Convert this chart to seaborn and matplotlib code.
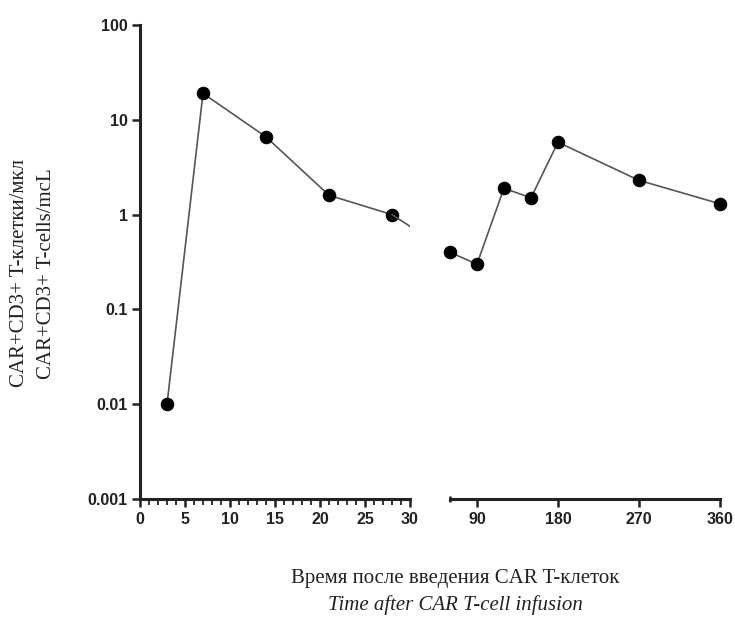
import numpy as np
import pandas as pd
import matplotlib
matplotlib.use("Agg")
import matplotlib.pyplot as plt
from matplotlib.patches import ConnectionPatch
from matplotlib.ticker import FixedLocator, MultipleLocator, NullLocator
import seaborn as sns

# Data
days_early = [3, 7, 14, 21, 28]
cells_early = [0.01, 19, 6.6, 1.6, 1.0]
days_late = [60, 90, 120, 150, 180, 270, 360]
cells_late = [0.4, 0.3, 1.9, 1.5, 5.8, 2.3, 1.3]

y_ticks = [0.001, 0.01, 0.1, 1, 10, 100]
y_tick_labels = ["0.001", "0.01", "0.1", "1", "10", "100"]
x_ticks_early = [0, 5, 10, 15, 20, 25, 30]
x_ticks_late = [90, 180, 270, 360]

ylabel_ru = "CAR+CD3+ T-клетки/мкл"
ylabel_en = "CAR+CD3+ T-cells/mcL"
xlabel_ru = "Время после введения CAR T-клеток"
xlabel_en = "Time after CAR T-cell infusion"

sns.set_style("ticks")
plt.rcParams["font.family"] = ["Liberation Sans", "DejaVu Sans"]

fig = plt.figure(figsize=(7.35, 6.17), dpi=100)
ax1 = fig.add_axes([0.1905, 0.1912, 0.3673, 0.7683])
ax2 = fig.add_axes([0.6122, 0.1912, 0.3673, 0.7683], sharey=ax1)

df1 = pd.DataFrame({"day": days_early, "cells": cells_early})
df2 = pd.DataFrame({"day": days_late, "cells": cells_late})

line_kw = dict(color="#555555", linewidth=1.2, marker="o", markersize=9,
               markerfacecolor="black", markeredgecolor="black", clip_on=False)
sns.lineplot(data=df1, x="day", y="cells", ax=ax1, **line_kw)
sns.lineplot(data=df2, x="day", y="cells", ax=ax2, **line_kw)

for ax in (ax1, ax2):
    ax.set_yscale("log")
    ax.set_ylim(0.001, 100)
    ax.set_xlabel("")
    ax.set_ylabel("")

ax1.set_xlim(0, 30)
ax2.set_xlim(60, 360)

# Connection line across the break (clipped to the left panel)
con = ConnectionPatch(xyA=(days_early[-1], cells_early[-1]), coordsA=ax1.transData,
                      xyB=(days_late[0], cells_late[0]), coordsB=ax2.transData,
                      color="#555555", linewidth=1.2, zorder=1)
fig.add_artist(con)
con.set_clip_on(True)
con.set_clip_box(ax1.bbox)

spine_color = "#222222"
spine_w = 2.2
# left axes
ax1.spines["top"].set_visible(False)
ax1.spines["right"].set_visible(False)
ax1.spines["left"].set_linewidth(spine_w)
ax1.spines["bottom"].set_linewidth(spine_w)
ax1.spines["left"].set_color(spine_color)
ax1.spines["bottom"].set_color(spine_color)
ax1.set_yticks(y_ticks)
ax1.set_yticklabels(y_tick_labels)
ax1.yaxis.set_minor_locator(NullLocator())
ax1.xaxis.set_major_locator(FixedLocator(x_ticks_early))
ax1.xaxis.set_minor_locator(MultipleLocator(1))
ax1.tick_params(axis="both", which="major", length=6, width=1.8, color=spine_color,
                labelsize=11.5, pad=3)
ax1.tick_params(axis="x", which="minor", length=4, width=1.3, color=spine_color)
for lbl in ax1.get_xticklabels() + ax1.get_yticklabels():
    lbl.set_fontweight("bold")
    lbl.set_color("#222222")

# right axes
for s in ("top", "right", "left"):
    ax2.spines[s].set_visible(False)
ax2.spines["bottom"].set_linewidth(spine_w)
ax2.spines["bottom"].set_color(spine_color)
ax2.tick_params(axis="y", which="both", left=False, labelleft=False)
ax2.xaxis.set_major_locator(FixedLocator(x_ticks_late))
ax2.xaxis.set_minor_locator(FixedLocator([60]))
ax2.tick_params(axis="x", which="major", length=6, width=1.8, color=spine_color,
                labelsize=11.5, pad=3)
ax2.tick_params(axis="x", which="minor", length=5, width=1.8, color=spine_color,
                direction="inout")
for lbl in ax2.get_xticklabels():
    lbl.set_fontweight("bold")
    lbl.set_color("#222222")

serif = ["Liberation Serif", "DejaVu Serif"]
fig.text(0.619, 0.063, xlabel_ru, ha="center", va="center", fontsize=15, family=serif,
         color="#222222")
fig.text(0.619, 0.020, xlabel_en, ha="center", va="center", fontsize=15, family=serif,
         style="italic", color="#222222")
fig.text(0.027, 0.557, ylabel_ru, ha="center", va="center", rotation=90, fontsize=15,
         family=serif, color="#222222")
fig.text(0.063, 0.557, ylabel_en, ha="center", va="center", rotation=90, fontsize=15,
         family=serif, color="#222222")

fig.savefig("out.png", dpi=100)
